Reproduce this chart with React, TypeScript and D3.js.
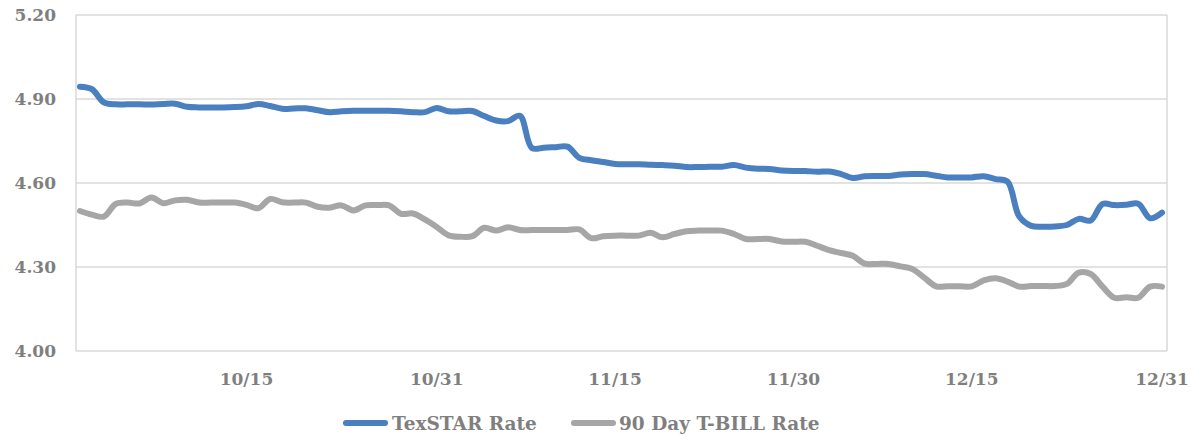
import React from 'react';
import * as d3 from 'd3';

// daily values, 10/1/2024 .. 12/31/2024
const startDate = new Date(2024, 9, 1);
const endDate = new Date(2024, 11, 31);
const dates = d3.timeDay.range(startDate, d3.timeDay.offset(endDate, 1));

const texstar = [
  4.944, 4.935, 4.888, 4.881, 4.881, 4.881, 4.880, 4.882, 4.883, 4.872,
  4.870, 4.870, 4.870, 4.871, 4.874, 4.882, 4.875, 4.865, 4.866, 4.867,
  4.860, 4.853, 4.856, 4.858, 4.858, 4.858, 4.858, 4.856, 4.853, 4.853,
  4.868, 4.856, 4.856, 4.857, 4.839, 4.823, 4.821, 4.840, 4.725, 4.726,
  4.728, 4.730, 4.690, 4.681, 4.675, 4.668, 4.667, 4.667, 4.665, 4.664,
  4.662, 4.657, 4.657, 4.658, 4.658, 4.664, 4.655, 4.651, 4.650, 4.645,
  4.643, 4.643, 4.640, 4.641, 4.632, 4.618, 4.624, 4.625, 4.625, 4.630,
  4.632, 4.632, 4.626, 4.620, 4.620, 4.620, 4.624, 4.614, 4.605, 4.480,
  4.447, 4.444, 4.445, 4.450, 4.472, 4.466, 4.525, 4.521, 4.522, 4.526,
  4.474, 4.494,
];

const tbill = [
  4.500, 4.487, 4.480, 4.525, 4.530, 4.527, 4.548, 4.528, 4.538, 4.540,
  4.530, 4.530, 4.530, 4.530, 4.522, 4.510, 4.543, 4.531, 4.530, 4.530,
  4.515, 4.512, 4.520, 4.502, 4.520, 4.521, 4.520, 4.490, 4.491, 4.470,
  4.443, 4.413, 4.408, 4.410, 4.440, 4.430, 4.442, 4.432, 4.432, 4.432,
  4.432, 4.432, 4.434, 4.403, 4.410, 4.412, 4.412, 4.412, 4.422, 4.406,
  4.418, 4.428, 4.430, 4.430, 4.430, 4.418, 4.400, 4.400, 4.400, 4.391,
  4.390, 4.390, 4.376, 4.360, 4.350, 4.340, 4.312, 4.311, 4.311, 4.302,
  4.293, 4.262, 4.231, 4.231, 4.231, 4.231, 4.252, 4.260, 4.248, 4.230,
  4.232, 4.232, 4.232, 4.240, 4.280, 4.275, 4.230, 4.190, 4.192, 4.190,
  4.230, 4.230,
];

const yTicks = [4.0, 4.3, 4.6, 4.9, 5.2];
const xTickDates = [
  new Date(2024, 9, 15),
  new Date(2024, 9, 31),
  new Date(2024, 10, 15),
  new Date(2024, 10, 30),
  new Date(2024, 11, 15),
  new Date(2024, 11, 31),
];

const seriesNames = ['TexSTAR Rate', '90 Day T-BILL Rate'];
const seriesColors = ['#4a7fc0', '#a6a6a6'];

const W = 1191;
const H = 436;
const plot = { left: 76, right: 1167, top: 15, bottom: 351 };
const font = '"DejaVu Serif", serif';
const textColor = '#7f7f7f';

export default function App() {
  const x = d3.scaleTime().domain([startDate, endDate]).range([80, 1162]);
  const y = d3.scaleLinear().domain([4.0, 5.2]).range([plot.bottom, plot.top]);

  const line = d3
    .line<number>()
    .x((_, i) => x(dates[i]))
    .y((d) => y(d))
    .curve(d3.curveCatmullRom.alpha(0.5));

  const series = [texstar, tbill];
  const fmt = d3.timeFormat('%-m/%-d');

  const legendItems = [
    { swatch: 343, text: 392 },
    { swatch: 571, text: 619 },
  ];

  return (
    <svg
      width={W}
      height={H}
      style={{ position: 'absolute', left: 0, top: 0, background: '#fff' }}
    >
      {/* grid */}
      {yTicks.map((t) => (
        <line
          key={t}
          x1={plot.left}
          x2={plot.right}
          y1={y(t)}
          y2={y(t)}
          stroke="#d9d9d9"
          strokeWidth={1.5}
        />
      ))}
      <line x1={plot.left} x2={plot.left} y1={plot.top} y2={plot.bottom} stroke="#d9d9d9" strokeWidth={1.5} />
      <line x1={plot.right} x2={plot.right} y1={plot.top} y2={plot.bottom} stroke="#d9d9d9" strokeWidth={1.5} />

      {/* y labels */}
      {yTicks.map((t) => (
        <text
          key={'yl' + t}
          x={56}
          y={y(t)}
          dy="0.36em"
          textAnchor="end"
          fontFamily={font}
          fontWeight="bold"
          fontSize={17}
          fill={textColor}
        >
          {t.toFixed(2)}
        </text>
      ))}

      {/* x labels */}
      {xTickDates.map((d) => (
        <text
          key={'xl' + d.getTime()}
          x={x(d)}
          y={385}
          textAnchor="middle"
          fontFamily={font}
          fontWeight="bold"
          fontSize={17}
          fill={textColor}
        >
          {fmt(d)}
        </text>
      ))}

      {/* lines */}
      {series.map((s, i) => (
        <path
          key={seriesNames[i]}
          d={line(s) || ''}
          fill="none"
          stroke={seriesColors[i]}
          strokeWidth={6}
          strokeLinejoin="round"
          strokeLinecap="round"
        />
      ))}

      {/* legend */}
      {legendItems.map((l, i) => (
        <g key={'lg' + i}>
          <line
            x1={l.swatch + 3}
            x2={l.swatch + 42}
            y1={423}
            y2={423}
            stroke={seriesColors[i]}
            strokeWidth={6}
            strokeLinecap="round"
          />
          <text
            x={l.text}
            y={423}
            dy="0.36em"
            fontFamily={font}
            fontWeight="bold"
            fontSize={18.5}
            fill={textColor}
          >
            {seriesNames[i]}
          </text>
        </g>
      ))}
    </svg>
  );
}
